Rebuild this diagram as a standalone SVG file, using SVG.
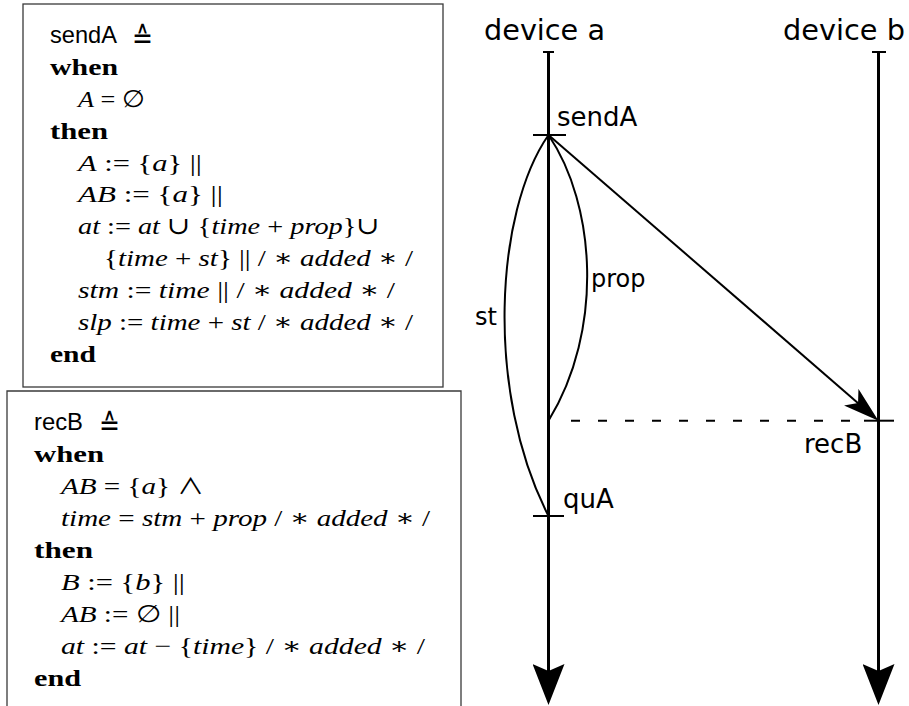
<svg xmlns="http://www.w3.org/2000/svg" width="909" height="706" viewBox="0 0 909 706">
<defs>
<style>
.box{fill:#fff;stroke:#3a3a3a;stroke-width:1.3}
.m{font-family:"Liberation Serif","DejaVu Serif",serif;font-size:24px;fill:#000}
.i{font-style:italic}
.k{font-family:"Liberation Serif","DejaVu Serif",serif;font-size:24px;font-weight:bold;fill:#000}
.sf{font-family:"Liberation Sans",Arial,sans-serif;font-size:24px;fill:#000}
.eq{font-family:"DejaVu Sans",sans-serif;font-size:30px;fill:#000}
.sym{font-family:"Noto Sans CJK JP","DejaVu Sans",sans-serif;font-size:22px}
.lbl{font-family:"DejaVu Sans",sans-serif;font-size:26px;fill:#000}
.dev{font-family:"DejaVu Sans",sans-serif;font-size:28.5px;fill:#000}
.life{stroke:#000;stroke-width:3;fill:none}
.tick{stroke:#000;stroke-width:2;fill:none}
.curve{stroke:#000;stroke-width:2;fill:none}
</style>
<marker id="lifeArrow" markerUnits="userSpaceOnUse" viewBox="0 -16 42 32" markerWidth="42" markerHeight="32" refX="26" refY="0" orient="auto">
<path d="M41,0 L0,-16 L7,0 L0,16 Z" fill="#000"/>
</marker>
<marker id="msgArrow" markerUnits="userSpaceOnUse" viewBox="0 -11 36 22" markerWidth="36" markerHeight="22" refX="24" refY="0" orient="auto">
<path d="M36,0 L0,-11 L9,0 L0,11 Z" fill="#000"/>
</marker>
</defs>
<rect width="909" height="706" fill="#fff"/>

<g id="box-sendA">
<rect class="box" x="23" y="4" width="420" height="383"/>
<text class="sf" x="50" y="43" textLength="67" lengthAdjust="spacingAndGlyphs">sendA</text>
<text class="eq" x="132" y="48" textLength="21" lengthAdjust="spacingAndGlyphs">≙</text>
<text class="k" x="50" y="75" textLength="68" lengthAdjust="spacingAndGlyphs">when</text>
<text class="m" x="78" y="107" textLength="67" lengthAdjust="spacingAndGlyphs"><tspan class="i">A</tspan> = ∅</text>
<text class="k" x="50" y="139" textLength="58" lengthAdjust="spacingAndGlyphs">then</text>
<text class="m" x="78" y="171" textLength="124" lengthAdjust="spacingAndGlyphs"><tspan class="i">A</tspan> := {<tspan class="i">a</tspan>} ||</text>
<text class="m" x="78" y="202" textLength="145" lengthAdjust="spacingAndGlyphs"><tspan class="i">AB</tspan> := {<tspan class="i">a</tspan>} ||</text>
<text class="m" x="78" y="234" textLength="302" lengthAdjust="spacingAndGlyphs"><tspan class="i">at</tspan> := <tspan class="i">at</tspan> ∪ {<tspan class="i">time</tspan> + <tspan class="i">prop</tspan>}∪</text>
<text class="m" x="104" y="266" textLength="309" lengthAdjust="spacingAndGlyphs">{<tspan class="i">time</tspan> + <tspan class="i">st</tspan>} || / ∗ <tspan class="i">added</tspan> ∗ /</text>
<text class="m" x="78" y="298" textLength="317" lengthAdjust="spacingAndGlyphs"><tspan class="i">stm</tspan> := <tspan class="i">time</tspan> || / ∗ <tspan class="i">added</tspan> ∗ /</text>
<text class="m" x="78" y="330" textLength="335" lengthAdjust="spacingAndGlyphs"><tspan class="i">slp</tspan> := <tspan class="i">time</tspan> + <tspan class="i">st</tspan>  / ∗ <tspan class="i">added</tspan> ∗ /</text>
<text class="k" x="50" y="362" textLength="46" lengthAdjust="spacingAndGlyphs">end</text>
</g>

<g id="box-recB">
<path class="box" d="M7,706 L7,391 L461,391 L461,706"/>
<text class="sf" x="34" y="430" textLength="49" lengthAdjust="spacingAndGlyphs">recB</text>
<text class="eq" x="99" y="435" textLength="21" lengthAdjust="spacingAndGlyphs">≙</text>
<text class="k" x="34" y="462" textLength="70" lengthAdjust="spacingAndGlyphs">when</text>
<text class="m" x="61" y="494" textLength="143" lengthAdjust="spacingAndGlyphs"><tspan class="i">AB</tspan> = {<tspan class="i">a</tspan>} <tspan class="sym">∧</tspan></text>
<text class="m" x="61" y="526" textLength="369" lengthAdjust="spacingAndGlyphs"><tspan class="i">time</tspan> = <tspan class="i">stm</tspan> + <tspan class="i">prop</tspan>  / ∗ <tspan class="i">added</tspan> ∗ /</text>
<text class="k" x="34" y="558" textLength="59" lengthAdjust="spacingAndGlyphs">then</text>
<text class="m" x="61" y="590" textLength="124" lengthAdjust="spacingAndGlyphs"><tspan class="i">B</tspan> := {<tspan class="i">b</tspan>} ||</text>
<text class="m" x="61" y="622" textLength="119" lengthAdjust="spacingAndGlyphs"><tspan class="i">AB</tspan> := ∅ ||</text>
<text class="m" x="61" y="654" textLength="364" lengthAdjust="spacingAndGlyphs"><tspan class="i">at</tspan> := <tspan class="i">at</tspan> − {<tspan class="i">time</tspan>}   / ∗ <tspan class="i">added</tspan> ∗ /</text>
<text class="k" x="34" y="686" textLength="47" lengthAdjust="spacingAndGlyphs">end</text>
</g>

<g id="device-a">
<text class="dev" x="484" y="40" textLength="121" lengthAdjust="spacingAndGlyphs">device a</text>
<line class="tick" x1="543" y1="52" x2="554" y2="52"/>
<path class="life" d="M548.5,52 L548.5,690" marker-end="url(#lifeArrow)"/>
</g>

<g id="device-b">
<text class="dev" x="783" y="40" textLength="122" lengthAdjust="spacingAndGlyphs">device b</text>
<line class="tick" x1="872" y1="52" x2="886" y2="52"/>
<path class="life" d="M878.5,52 L878.5,690" marker-end="url(#lifeArrow)"/>
</g>

<g id="event-sendA">
<line class="tick" x1="533" y1="135" x2="566" y2="135"/>
<text class="lbl" x="557" y="126">sendA</text>
</g>

<g id="event-recB">
<line class="tick" x1="864" y1="420.7" x2="894" y2="420.7"/>
<text class="lbl" x="804" y="453">recB</text>
</g>

<g id="event-quA">
<line class="tick" x1="533" y1="516" x2="564" y2="516"/>
<text class="lbl" x="563" y="508">quA</text>
</g>

<g id="connectors">
<path class="curve" d="M548.5,135 C596,205 604,330 548.5,420.7"/>
<text class="lbl" x="591" y="287" style="font-size:24px">prop</text>
<path class="curve" d="M548.5,135 C495,212 485,392 548.5,516"/>
<text class="lbl" x="475" y="325" style="font-size:24px">st</text>
<line class="curve" x1="548.5" y1="135" x2="869.4" y2="412.9" marker-end="url(#msgArrow)"/>
<line class="curve" x1="571" y1="420.7" x2="864" y2="420.7" stroke-dasharray="9,18"/>
</g>
</svg>
